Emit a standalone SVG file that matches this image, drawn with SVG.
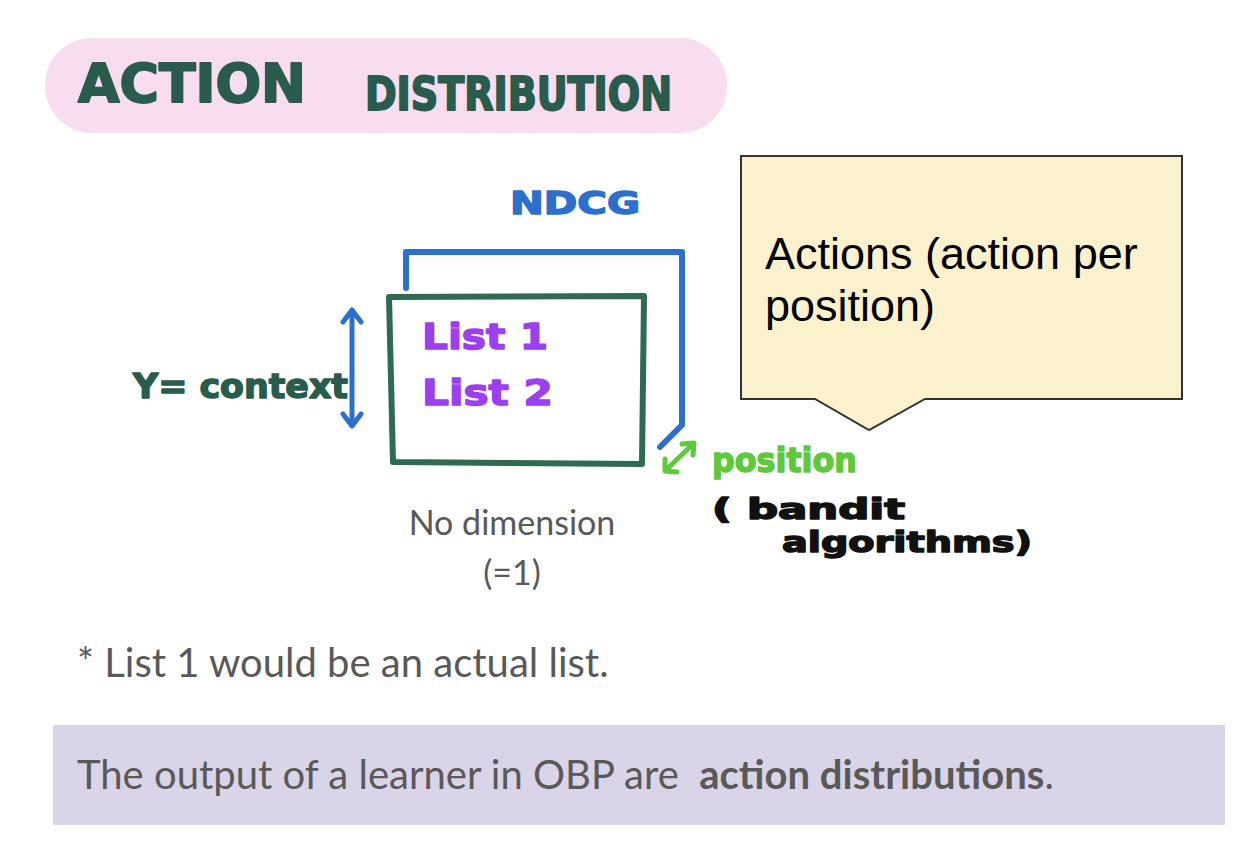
<svg xmlns="http://www.w3.org/2000/svg" width="1244" height="852" viewBox="0 0 1244 852">
<defs>
<style>
.hand{font-family:"DejaVu Sans",sans-serif;font-weight:bold;stroke-linejoin:round;stroke-linecap:round}
.title{fill:#295c4c;stroke:#295c4c;stroke-width:2}
.lato{font-family:Lato,"Liberation Sans",sans-serif;fill:#595959}
.line{fill:none;stroke-linecap:round;stroke-linejoin:round}
.arial{font-family:"Liberation Sans",Arial,sans-serif;fill:#000}
</style>
</defs>
<rect width="1244" height="852" fill="#ffffff"/>

<g id="title">
<rect x="45" y="38" width="682" height="95" rx="47" fill="#f8dcef"/>
<text class="hand title" x="78" y="102" font-size="54" textLength="228" lengthAdjust="spacingAndGlyphs">ACTION</text>
<text class="hand title" x="365" y="110" font-size="46" textLength="307" lengthAdjust="spacingAndGlyphs">DISTRIBUTION</text>
</g>

<g id="ndcg">
<text class="hand" x="510" y="214" font-size="32" fill="#2d6fcc" stroke="#2d6fcc" stroke-width="1.5" textLength="130" lengthAdjust="spacingAndGlyphs">NDCG</text>
</g>

<g id="connectors">
<path class="line" d="M406,288 L406,252 L682,252 L682,425 L660,447" stroke="#2d6fcc" stroke-width="6"/>
<line class="line" x1="352" y1="312" x2="352" y2="424" stroke="#2d6fcc" stroke-width="5"/>
<path class="line" d="M343,322 L352,310 L361,322 M343,414 L352,426 L361,414" stroke="#2d6fcc" stroke-width="5"/>
<line class="line" x1="666" y1="470" x2="692" y2="445" stroke="#5ec93b" stroke-width="5"/>
<path class="line" d="M665,459 L665,471 L677,472 M682,444 L694,443 L693,455" stroke="#5ec93b" stroke-width="5"/>
</g>

<g id="list-box">
<path class="line" d="M389,297 L644,296 L642,464 L393,462 Z" stroke="#2e6b50" stroke-width="6"/>
<text class="hand" x="422" y="349" font-size="36" fill="#9b3ff0" stroke="#9b3ff0" stroke-width="1.5" textLength="126" lengthAdjust="spacingAndGlyphs">List 1</text>
<text class="hand" x="422" y="405" font-size="36" fill="#9b3ff0" stroke="#9b3ff0" stroke-width="1.5" textLength="131" lengthAdjust="spacingAndGlyphs">List 2</text>
</g>

<g id="context-label">
<text class="hand" x="133" y="398" font-size="34" fill="#295c4c" stroke="#295c4c" stroke-width="1.5" textLength="215" lengthAdjust="spacingAndGlyphs">Y= context</text>
</g>

<g id="dimension-label">
<text class="lato" x="512" y="535" font-size="34" text-anchor="middle">No dimension</text>
<text class="lato" x="512" y="585" font-size="34" text-anchor="middle">(=1)</text>
</g>

<g id="position-label">
<text class="hand" x="712" y="472" font-size="34" fill="#5ec93b" stroke="#5ec93b" stroke-width="1.5" textLength="145" lengthAdjust="spacingAndGlyphs">position</text>
<text class="hand" x="712" y="519" font-size="28" fill="#111" stroke="#111" stroke-width="1.5" textLength="193" lengthAdjust="spacingAndGlyphs">( bandit</text>
<text class="hand" x="782" y="552" font-size="28" fill="#111" stroke="#111" stroke-width="1.5" textLength="250" lengthAdjust="spacingAndGlyphs">algorithms)</text>
</g>

<g id="callout">
<path d="M741,156 L1182,156 L1182,399 L925,399 L869,430 L815,399 L741,399 Z" fill="#fcf1cd" stroke="#333333" stroke-width="2"/>
<text class="arial" x="765" y="269" font-size="45">Actions (action per</text>
<text class="arial" x="765" y="321" font-size="45">position)</text>
</g>

<g id="footnote">
<text class="lato" x="77" y="677" font-size="40">* List 1 would be an actual list.</text>
</g>

<g id="summary">
<rect x="53" y="725" width="1172" height="100" fill="#d9d4e8"/>
<text class="lato" x="77" y="789" font-size="40">The output of a learner in OBP are&#160; <tspan font-weight="bold">action distributions</tspan>.</text>
</g>
</svg>
